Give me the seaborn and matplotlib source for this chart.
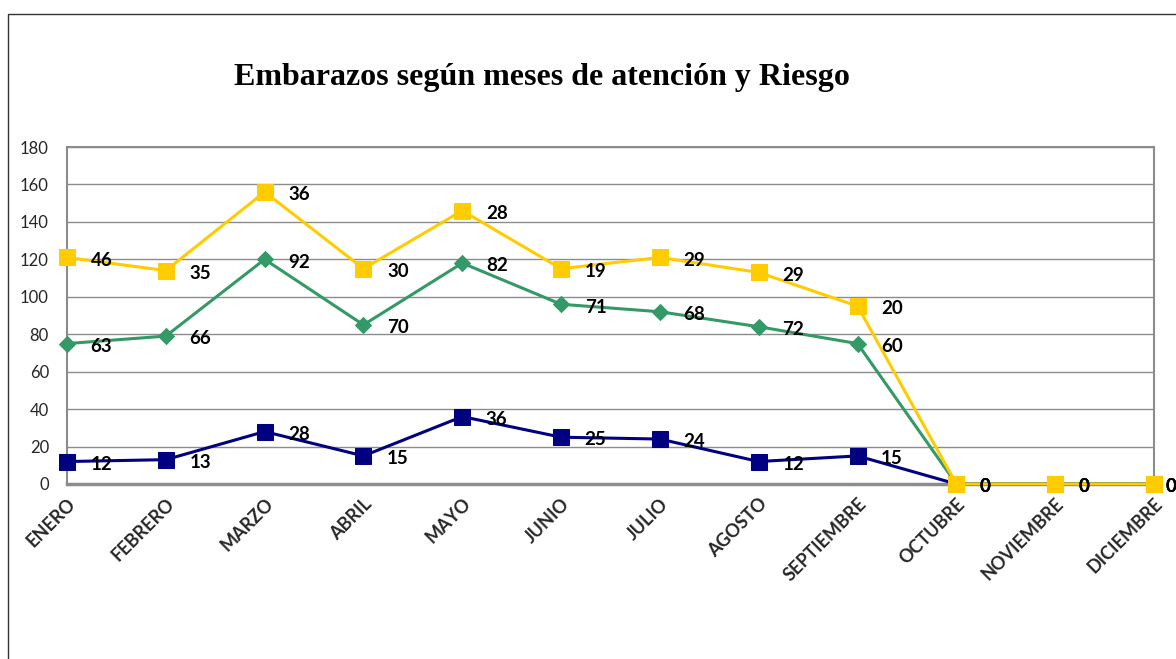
import numpy as np
import pandas as pd
import matplotlib
matplotlib.use("Agg")
import matplotlib.pyplot as plt
import seaborn as sns
from matplotlib.patches import Rectangle

# --- Data (stacked line chart; labels show each series' own value) ---
meses = ["ENERO", "FEBRERO", "MARZO", "ABRIL", "MAYO", "JUNIO", "JULIO",
         "AGOSTO", "SEPTIEMBRE", "OCTUBRE", "NOVIEMBRE", "DICIEMBRE"]
serie_azul = [12, 13, 28, 15, 36, 25, 24, 12, 15, 0, 0, 0]
serie_verde = [63, 66, 92, 70, 82, 71, 68, 72, 60, 0, 0, 0]
serie_amarilla = [46, 35, 36, 30, 28, 19, 29, 29, 20, 0, 0, 0]

titulo = "Embarazos según meses de atención y Riesgo"

sns.set_style("white")
plt.rcParams['font.family'] = ['Lato', 'DejaVu Sans']

fig = plt.figure(figsize=(11.76, 6.59), dpi=100)
ax = fig.add_axes([67 / 1176, 1 - 484 / 659, (1154 - 67) / 1176, (484 - 147) / 659])

# outer chart frame (cropped at right/bottom)
fig.patches.append(Rectangle((8 / 1176, -0.1), 1.2, 1 - 14 / 659 + 0.1,
                             transform=fig.transFigure, fill=False,
                             edgecolor="#333333", linewidth=1.0))

x = np.arange(len(meses))
acum1 = np.array(serie_azul)
acum2 = acum1 + np.array(serie_verde)
acum3 = acum2 + np.array(serie_amarilla)

series = [
    (acum1, serie_azul, "#000080", "s", 11),
    (acum2, serie_verde, "#339966", "D", 8),
    (acum3, serie_amarilla, "#FFCC00", "s", 11),
]

for y_acum, vals, color, marker, ms in series:
    df = pd.DataFrame({"x": x, "y": y_acum})
    sns.lineplot(data=df, x="x", y="y", ax=ax, color=color, linewidth=2.2,
                 marker=marker, markersize=ms, markeredgecolor=color,
                 clip_on=False, zorder=3)
    for xi, yi, v in zip(x, y_acum, vals):
        # last label sits closer to the point (partly cut at the edge, as in the original)
        dx = 8 if xi == x[-1] else 17
        ax.annotate(str(v), (xi, yi), xytext=(dx, -2), textcoords="offset points",
                    ha="left", va="center", fontsize=13.5, fontweight="bold",
                    color="black", annotation_clip=False, zorder=4)

ax.set_xlim(0, 11)
ax.set_ylim(0, 180)
ax.set_yticks(range(0, 181, 20))
ax.set_xticks(x)
ax.set_xticklabels(meses, rotation=45, ha="right", rotation_mode="anchor",
                   fontsize=13, fontweight="bold")
ax.tick_params(axis="y", labelsize=12, length=0, pad=13)
ax.tick_params(axis="x", length=0, pad=8)
ax.set_xlabel("")
ax.set_ylabel("")
ax.grid(axis="y", color="#8c8c8c", linewidth=1)
ax.set_axisbelow(True)
for side in ["left", "right", "top"]:
    ax.spines[side].set_visible(True)
    ax.spines[side].set_color("#8c8c8c")
    ax.spines[side].set_linewidth(1.5)
ax.spines["bottom"].set_color("#8c8c8c")
ax.spines["bottom"].set_linewidth(2.5)

fig.text(542 / 1176, 1 - 77 / 659, titulo, ha="center", va="center", color="black",
         fontsize=23, fontweight="bold", family=["Liberation Serif", "DejaVu Serif"])

fig.savefig("out.png", dpi=100)
